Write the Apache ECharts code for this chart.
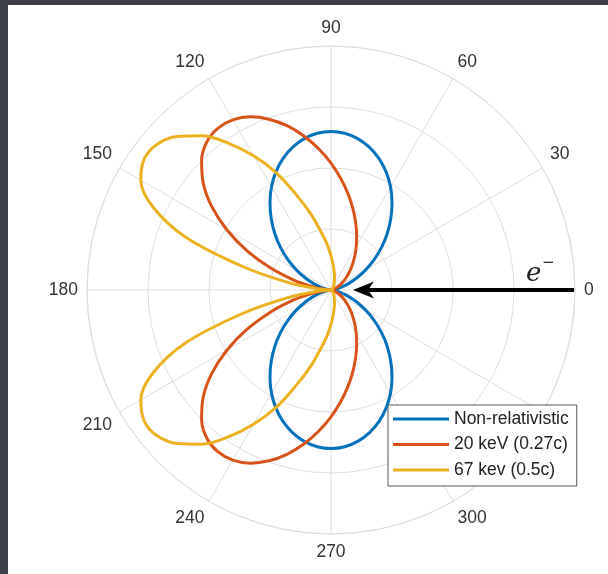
<!DOCTYPE html>
<html>
<head>
<meta charset="utf-8">
<script src="https://cdn.jsdelivr.net/npm/echarts@6/dist/echarts.min.js"></script>
<style>
html,body{margin:0;padding:0;background:#fff;}
#chart{width:608px;height:574px;}
</style>
</head>
<body>
<div id="chart"></div>
<script>
const angleDeg = [0,5,10,15,20,25,30,35,40,45,50,55,60,65,70,75,80,85,90,95,100,105,110,115,120,125,130,135,140,145,150,155,160,165,170,175,180,
  185,190,195,200,205,210,215,220,225,230,235,240,245,250,255,260,265,270,275,280,285,290,295,300,305,310,315,320,325,330,335,340,345,350,355,360];

// Radius (fraction of outer ring) for each series
const nonRelR = [0,.005,.020,.044,.076,.116,.163,.214,.269,.325,.381,.436,.488,.534,.574,.606,.630,.645,.650,.645,.630,.606,.574,.534,.488,.436,.381,.325,.269,.214,.163,.116,.076,.044,.020,.005,0,
  .005,.020,.044,.076,.116,.163,.214,.269,.325,.381,.436,.488,.534,.574,.606,.630,.645,.650,.645,.630,.606,.574,.534,.488,.436,.381,.325,.269,.214,.163,.116,.076,.044,.020,.005,0];

const kev20R = [0,.001,.005,.011,.020,.031,.046,.063,.084,.109,.137,.170,.207,.249,.295,.346,.401,.459,.520,.581,.641,.697,.745,.783,.805,.809,.792,.750,.684,.597,.492,.378,.263,.158,.074,.019,0,
  .019,.074,.158,.263,.378,.492,.597,.684,.750,.792,.809,.805,.783,.745,.697,.641,.581,.520,.459,.401,.346,.295,.249,.207,.170,.137,.109,.084,.063,.046,.031,.020,.011,.005,.001,0];

const kev67R = [0,0,.001,.001,.002,.003,.004,.006,.008,.011,.014,.019,.024,.031,.040,.056,.075,.103,.140,.190,.245,.325,.415,.530,.635,.735,.825,.890,.930,.935,.900,.805,.635,.380,.180,.050,0,
  .050,.180,.380,.635,.805,.900,.935,.930,.890,.825,.735,.635,.530,.415,.325,.245,.190,.140,.103,.075,.056,.040,.031,.024,.019,.014,.011,.008,.006,.004,.003,.002,.001,.001,0,0];

// Angle tick labels (330 is hidden under the legend in the reference)
const angleTicks = ['0','30','60','90','120','150','180','210','240','270','300',''];
const seriesNames = ['Non-relativistic','20 keV (0.27c)','67 kev (0.5c)'];
const seriesColors = ['#0072BD','#D95319','#EDB120'];
const seriesValues = [nonRelR, kev20R, kev67R];

const chart = echarts.init(document.getElementById('chart'), null, {renderer:'canvas'});

const series = seriesValues.map((vals, k) => ({
  name: seriesNames[k],
  type: 'line',
  coordinateSystem: 'polar',
  data: angleDeg.map((a, i) => [vals[i], a]),
  smooth: 0.35,
  symbol: 'none',
  showSymbol: false,
  lineStyle: {width: 3, color: seriesColors[k]},
  itemStyle: {color: seriesColors[k]},
  z: 3 + k
}));

const gridColor = '#dedede';

chart.setOption({
  animation: false,
  backgroundColor: '#ffffff',
  polar: {center: [331, 290], radius: 244},
  angleAxis: {
    type: 'value', min: 0, max: 360, interval: 30,
    startAngle: 0, clockwise: false,
    axisLine: {show: true, lineStyle: {color: gridColor, width: 1}},
    axisTick: {show: false},
    axisLabel: {
      show: true, margin: 9, color: '#333333', fontSize: 17.5,
      fontFamily: 'Liberation Sans, Arial, sans-serif',
      formatter: v => (v % 30 === 0 && v < 360) ? angleTicks[v / 30] : ''
    },
    splitLine: {show: true, lineStyle: {color: gridColor, width: 1}}
  },
  radiusAxis: {
    type: 'value', min: 0, max: 1, interval: 0.25,
    axisLine: {show: false},
    axisTick: {show: false},
    axisLabel: {show: false},
    splitLine: {show: true, lineStyle: {color: gridColor, width: 1}}
  },
  legend: {
    data: seriesNames,
    orient: 'vertical',
    left: 388, top: 405,
    backgroundColor: '#ffffff',
    borderColor: '#555555', borderWidth: 1,
    padding: [4, 8, 6, 5],
    itemGap: 5.5,
    itemWidth: 56, itemHeight: 3,
    icon: 'rect',
    selectedMode: false,
    textStyle: {fontSize: 17.5, color: '#222222', fontFamily: 'Liberation Sans, Arial, sans-serif', lineHeight: 20}
  },
  series: series,
  graphic: [
    {type: 'rect', shape: {x: 0, y: 0, width: 608, height: 5}, style: {fill: '#3c3f45'}, z: 100},
    {type: 'rect', shape: {x: 0, y: 0, width: 8, height: 574}, style: {fill: '#3c3f45'}, z: 100},
    {type: 'line', shape: {x1: 574, y1: 290, x2: 368, y2: 290}, style: {stroke: '#000', lineWidth: 4}, z: 50},
    {type: 'polygon', shape: {points: [[353, 290], [374, 281.5], [368, 290], [374, 298.5]]}, style: {fill: '#000'}, z: 50},
    {type: 'text', x: 526, y: 274, style: {text: 'e', fontFamily: 'DejaVu Serif', fontStyle: 'italic', fontSize: 26, fill: '#222', verticalAlign: 'middle', align: 'left'}, z: 50},
    {type: 'text', x: 542, y: 263, style: {text: '\u2212', fontFamily: 'DejaVu Sans', fontSize: 15, fill: '#222', verticalAlign: 'middle', align: 'left'}, z: 50}
  ]
});
</script>
</body>
</html>
